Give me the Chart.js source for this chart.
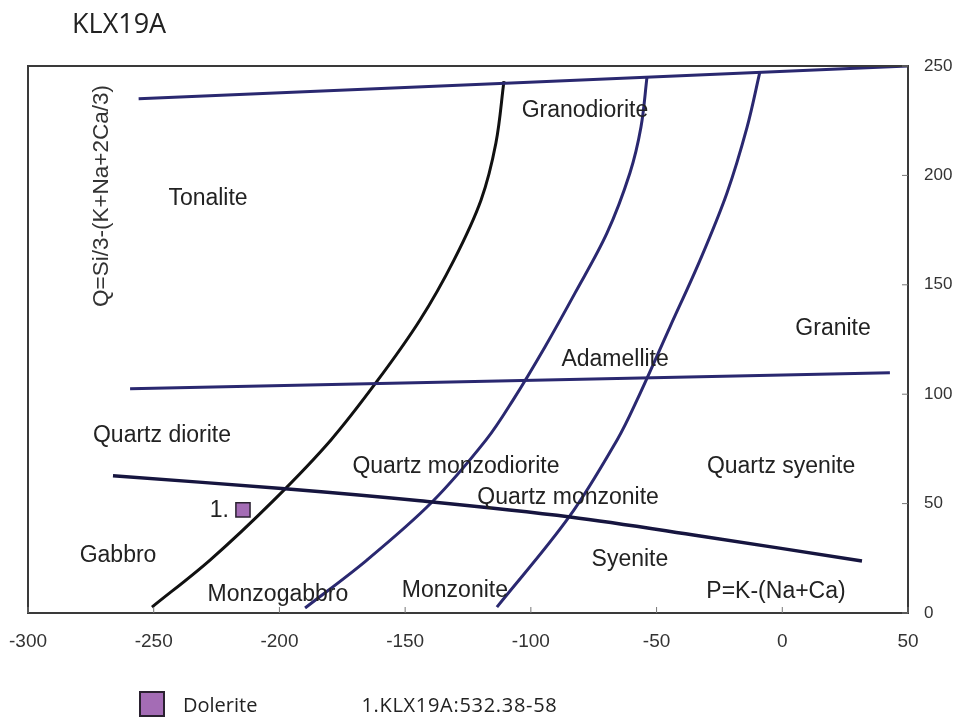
<!DOCTYPE html>
<html>
<head>
<meta charset="utf-8">
<script src="https://cdn.jsdelivr.net/npm/chart.js@4/dist/chart.umd.min.js"></script>
<style>
  body{margin:0;background:#fff;}
  #wrap{position:relative;width:962px;height:720px;}
  #title{position:absolute;left:72px;top:9px;font:27px "Open Sans",sans-serif;line-height:27px;color:#222;}
  #legend{position:absolute;left:139px;top:691px;height:26px;display:flex;align-items:center;font:20px "Open Sans",sans-serif;color:#222;}
  .swatch{width:22px;height:22px;background:#a46cb5;border:2px solid #2a2130;}
</style>
</head>
<body>
<div id="wrap">
  <canvas id="c" width="962" height="720"></canvas>
  <div id="title">KLX19A</div>
  <div id="legend">
    <div class="swatch"></div>
    <span style="margin-left:18px">Dolerite</span>
    <span style="margin-left:104px;letter-spacing:0.7px">1.KLX19A:532.38-58</span>
  </div>
</div>
<script>
// field boundaries (P, Q)
const upperX = [-256, 50];
const upperY = [235, 250];
const midX = [-259.4, 42.8];
const midY = [102.5, 109.8];
const lowerX = [-266.2, -197.8, -144.1, -84.4, -32.7, 31.7];
const lowerY = [62.7, 56.8, 51.3, 43.9, 35.2, 23.8];
const curve1X = [-250.7, -227.6, -202.2, -179.5, -160.8, -144.1, -130.6, -119.8, -113.9, -110.7];
const curve1Y = [2.7, 24.2, 51.6, 79.1, 106.5, 133.9, 161.3, 188.8, 214.8, 243.1];
const curve2X = [-189.8, -165.2, -139.3, -117.8, -107.1, -94.4, -82.4, -69.7, -60.6, -56.2, -53.8];
const curve2Y = [2.3, 24.2, 50.7, 79.1, 97.3, 121.6, 146.3, 173.7, 201.1, 222.1, 245.0];
const curve3X = [-113.5, -84.8, -65.7, -57.8, -44.7, -32.7, -22.0, -14.0, -8.9];
const curve3Y = [2.7, 43.9, 79.1, 97.3, 130.7, 161.3, 192.0, 222.1, 247.3];

// sample
const sampleX = [-214.5];
const sampleY = [47.1];
const sampleLabels = ["1."];

// field names and their centres
const fieldNames = ["Granodiorite","Tonalite","Granite","Adamellite","Quartz diorite","Quartz monzodiorite","Quartz syenite","Quartz monzonite","Gabbro","Syenite","Monzogabbro","Monzonite","P=K-(Na+Ca)"];
const fieldX = [-78.5, -228.4, 20.2, -66.5, -246.7, -129.8, -0.5, -85.2, -264.2, -60.6, -200.6, -130.2, -2.5];
const fieldY = [229.7, 189.5, 130, 115.8, 81, 66.8, 66.8, 52.6, 26.1, 24.3, 8.2, 10.1, 9.6];

const xTicks = [-300, -250, -200, -150, -100, -50, 0, 50];
const yTicks = [0, 50, 100, 150, 200, 250];
const yTitle = "Q=Si/3-(K+Na+2Ca/3)";

const pts = (xs, ys) => xs.map((x, i) => ({x, y: ys[i]}));
const line = (xs, ys, color, w) => ({data: pts(xs, ys), showLine: true, borderColor: color, borderWidth: w, pointRadius: 0, tension: 0.35, fill: false});

const decor = {
  id: "decor",
  afterDatasetsDraw(chart) {
    const {ctx, chartArea: a, scales: {x, y}} = chart;
    ctx.save();
    // frame
    ctx.strokeStyle = "#3a3a3a"; ctx.lineWidth = 2;
    ctx.strokeRect(a.left, a.top, a.right - a.left, a.bottom - a.top);
    // inward ticks
    ctx.lineWidth = 1; ctx.strokeStyle = "#777";
    xTicks.forEach(v => { const p = x.getPixelForValue(v); ctx.beginPath(); ctx.moveTo(p, a.bottom); ctx.lineTo(p, a.bottom - 6); ctx.stroke(); });
    yTicks.forEach(v => { const p = y.getPixelForValue(v); ctx.beginPath(); ctx.moveTo(a.right, p); ctx.lineTo(a.right - 6, p); ctx.stroke(); });
    // field names
    ctx.fillStyle = "#222"; ctx.font = '23px "Liberation Sans", Arial, sans-serif';
    ctx.textAlign = "center"; ctx.textBaseline = "middle";
    fieldNames.forEach((n, i) => ctx.fillText(n, x.getPixelForValue(fieldX[i]), y.getPixelForValue(fieldY[i])));
    // sample label
    ctx.textAlign = "right";
    sampleLabels.forEach((n, i) => ctx.fillText(n, x.getPixelForValue(sampleX[i]) - 14, y.getPixelForValue(sampleY[i]) + 1));
    // y title inside the plot
    ctx.translate(a.left + 74, a.top + 130);
    ctx.rotate(-Math.PI / 2);
    ctx.textAlign = "center"; ctx.fillStyle = "#333";
    ctx.font = '22.5px "Liberation Sans", Arial, sans-serif';
    ctx.fillText(yTitle, 0, 0);
    ctx.restore();
  }
};

new Chart(document.getElementById("c"), {
  type: "scatter",
  data: {
    datasets: [
      line(upperX, upperY, "#2a2870", 3),
      line(midX, midY, "#2a2870", 3),
      line(lowerX, lowerY, "#16153f", 3.5),
      line(curve1X, curve1Y, "#111111", 3),
      line(curve2X, curve2Y, "#2a2870", 3),
      line(curve3X, curve3Y, "#2a2870", 3),
      {data: pts(sampleX, sampleY), pointStyle: "rect", pointRadius: 10, backgroundColor: "#a46cb5", borderColor: "#2a2130", borderWidth: 1.5}
    ]
  },
  options: {
    responsive: false, animation: false, events: [],
    layout: {padding: {left: 28, top: 66, right: 0, bottom: 0}},
    plugins: {legend: {display: false}, tooltip: {enabled: false}},
    scales: {
      x: {type: "linear", min: -300, max: 50,
          afterFit: s => { s.height = 107; s.paddingLeft = 0; s.paddingRight = 0; },
          afterBuildTicks: s => { s.ticks = xTicks.map(v => ({value: v})); },
          grid: {display: false, drawTicks: false}, border: {display: false},
          ticks: {padding: 17, color: "#333", font: {family: "Liberation Sans", size: 19}}},
      y: {type: "linear", position: "right", min: 0, max: 250,
          afterFit: s => { s.width = 54; s.paddingTop = 0; s.paddingBottom = 0; },
          afterBuildTicks: s => { s.ticks = yTicks.map(v => ({value: v})); },
          grid: {display: false, drawTicks: false}, border: {display: false},
          ticks: {padding: 16, color: "#333", font: {family: "Liberation Sans", size: 17}}}
    }
  },
  plugins: [decor]
});
</script>
</body>
</html>
